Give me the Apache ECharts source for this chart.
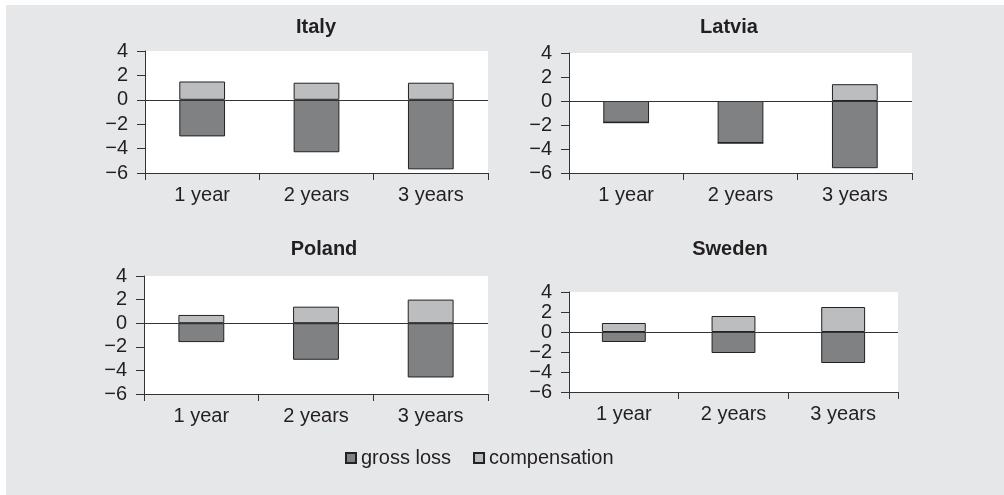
<!DOCTYPE html>
<html>
<head>
<meta charset="utf-8">
<script src="https://cdn.jsdelivr.net/npm/echarts@6/dist/echarts.min.js"></script>
<style>
  html, body { margin: 0; padding: 0; background: #fff; }
  #bg { position: absolute; left: 6px; top: 5px; width: 998px; height: 490px; background: #e6e7e8; }
  #chart { position: absolute; left: 0; top: 0; width: 1004px; height: 495px; }
</style>
</head>
<body>
<div id="bg"></div>
<div id="chart"></div>
<script>
// periods on the x axis
var categories = ['1 year', '2 years', '3 years'];
var seriesNames = ['gross loss', 'compensation'];
var countries = ['Italy', 'Latvia', 'Poland', 'Sweden'];

// values
var italyLoss = [-3.0, -4.3, -5.7];
var italyComp = [1.5, 1.4, 1.4];
var latviaLoss = [-1.8, -3.5, -5.6];
var latviaComp = [0, 0, 1.4];
var polandLoss = [-1.6, -3.1, -4.6];
var polandComp = [0.7, 1.4, 2.0];
var swedenLoss = [-1.0, -2.1, -3.1];
var swedenComp = [0.9, 1.6, 2.5];

var yMin = -6, yMax = 4, yStep = 2;

var lossData = [italyLoss, latviaLoss, polandLoss, swedenLoss];
var compData = [italyComp, latviaComp, polandComp, swedenComp];

// panel placement
var grids = [
    { left: 145, top: 51, width: 343, height: 122 },
    { left: 569, top: 53, width: 343, height: 120 },
    { left: 144, top: 276, width: 344, height: 118 },
    { left: 569, top: 292, width: 329, height: 100 }
];
var titlePos = [[316, 17], [729, 17], [324, 239], [730, 239]];

var textColor = '#231f20';
var axisColor = '#333333';
var font = '"Liberation Sans", Arial, sans-serif';

var option = {
    animation: false,
    backgroundColor: 'transparent',
    textStyle: { fontFamily: font, color: textColor },
    title: [],
    grid: [],
    xAxis: [],
    yAxis: [],
    series: [],
    legend: {
        data: seriesNames,
        left: 340,
        top: 443,
        itemWidth: 10,
        itemHeight: 10,
        itemGap: 22,
        icon: 'rect',
        textStyle: { fontFamily: font, fontSize: 20, color: textColor }
    }
};

countries.forEach(function (name, i) {
    option.title.push({
        text: name,
        left: titlePos[i][0],
        top: titlePos[i][1],
        textAlign: 'center',
        padding: 0,
        textStyle: { fontFamily: font, fontSize: 20, fontWeight: 'bold', color: textColor }
    });
    option.grid.push({
        left: grids[i].left,
        top: grids[i].top,
        width: grids[i].width,
        height: grids[i].height,
        show: true,
        backgroundColor: '#ffffff',
        borderWidth: 0
    });
    option.xAxis.push({
        type: 'category',
        gridIndex: i,
        data: categories,
        position: 'bottom',
        boundaryGap: true,
        axisLine: { onZero: false, lineStyle: { color: axisColor, width: 1 } },
        axisTick: { show: true, inside: false, length: 7, alignWithLabel: false, lineStyle: { color: axisColor } },
        axisLabel: { fontFamily: font, fontSize: 20, color: textColor, margin: 12 },
        splitLine: { show: false }
    });
    option.yAxis.push({
        type: 'value',
        gridIndex: i,
        min: yMin,
        max: yMax,
        interval: yStep,
        axisLine: { show: true, lineStyle: { color: axisColor, width: 1 } },
        axisTick: { show: true, inside: false, length: 8, lineStyle: { color: axisColor } },
        axisLabel: {
            fontFamily: font, fontSize: 20, color: textColor, margin: 17,
            formatter: function (v) { return String(v).replace('-', '\u2212'); }
        },
        splitLine: { show: false }
    });
    option.series.push({
        name: seriesNames[0],
        type: 'bar',
        xAxisIndex: i,
        yAxisIndex: i,
        stack: 'p' + i,
        barWidth: '40%',
        data: lossData[i],
        itemStyle: { color: '#808183', borderColor: '#222222', borderWidth: 1 }
    });
    option.series.push({
        name: seriesNames[1],
        type: 'bar',
        xAxisIndex: i,
        yAxisIndex: i,
        stack: 'p' + i,
        barWidth: '40%',
        data: compData[i],
        itemStyle: { color: '#bcbdbf', borderColor: '#222222', borderWidth: 1 },
        markLine: {
            silent: true,
            symbol: 'none',
            label: { show: false },
            lineStyle: { color: '#333333', width: 1, type: 'solid' },
            data: [{ yAxis: 0 }]
        }
    });
});

var chart = echarts.init(document.getElementById('chart'));
chart.setOption(option);
</script>
</body>
</html>
